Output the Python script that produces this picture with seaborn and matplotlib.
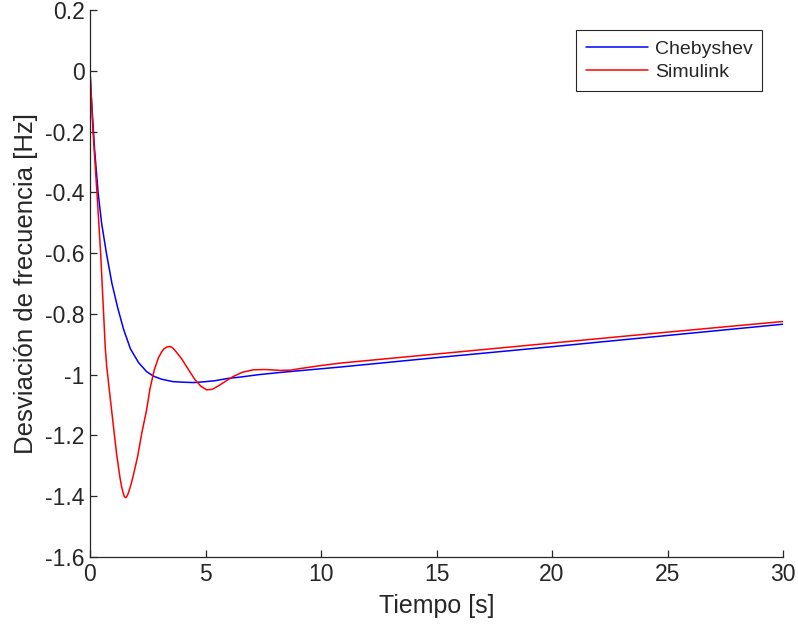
import numpy as np
import matplotlib
matplotlib.use("Agg")
import matplotlib.pyplot as plt
import pandas as pd
import seaborn as sns

# Chebyshev response (time [s], deviation [Hz])
t_cheb = [0, 0.05, 0.1, 0.2, 0.35, 0.5, 0.71, 0.95, 1.2, 1.45, 1.75, 2.1, 2.45, 2.75,
          3.1, 3.6, 4.1, 4.5, 5.0, 5.4, 6.0, 6.5, 7.3, 8.2, 9.5, 10.82,
          15, 20, 25, 30]
f_cheb = [0, -0.075, -0.14, -0.26, -0.40, -0.50, -0.60, -0.70, -0.78, -0.85, -0.915, -0.96,
          -0.99, -1.005, -1.015, -1.023, -1.025, -1.026, -1.023, -1.02, -1.012,
          -1.008, -1.0, -0.993, -0.984, -0.975, -0.944, -0.908, -0.871, -0.834]

# Simulink response
t_sim = [0, 0.13, 0.3, 0.46, 0.59, 0.66, 0.72, 0.85, 1.0, 1.15, 1.3, 1.36, 1.42, 1.48,
         1.54, 1.6, 1.66, 1.78, 1.88, 2.06, 2.24, 2.45, 2.6, 2.78, 2.96, 3.1,
         3.2, 3.33, 3.46, 3.58, 3.7, 3.97, 4.25, 4.55, 4.8, 5.05, 5.3, 5.6, 5.9,
         6.2, 6.6, 7.07, 7.6, 8.23, 8.7, 9.09, 10.0, 10.82, 15, 20, 25, 30]
f_sim = [0, -0.2, -0.4, -0.6, -0.8, -0.91, -0.97, -1.06, -1.16, -1.26, -1.34,
         -1.365, -1.385, -1.4, -1.405, -1.4, -1.39, -1.36, -1.33, -1.27, -1.193,
         -1.116, -1.045, -0.985, -0.945, -0.925, -0.915, -0.909, -0.907, -0.912,
         -0.922, -0.948, -0.982, -1.017, -1.038, -1.05, -1.048, -1.035, -1.02,
         -1.006, -0.992, -0.984, -0.983, -0.986, -0.985, -0.98, -0.97, -0.962,
         -0.932, -0.896, -0.86, -0.825]

x_ticks = [0, 5, 10, 15, 20, 25, 30]
y_ticks = [0.2, 0, -0.2, -0.4, -0.6, -0.8, -1, -1.2, -1.4, -1.6]
y_tick_labels = ["0.2", "0", "-0.2", "-0.4", "-0.6", "-0.8", "-1", "-1.2", "-1.4", "-1.6"]

df = pd.concat([
    pd.DataFrame({"t": t_cheb, "f": f_cheb, "serie": "Chebyshev"}),
    pd.DataFrame({"t": t_sim, "f": f_sim, "serie": "Simulink"}),
])

sns.set_theme(style="ticks")
plt.rcParams["font.family"] = ["Liberation Sans", "DejaVu Sans"]
plt.rcParams["axes.unicode_minus"] = False
txt = "#262626"

fig = plt.figure(figsize=(7.98, 6.32), dpi=100)
ax = fig.add_axes([90 / 798, 1 - 557 / 632, 693 / 798, 547 / 632])

sns.lineplot(data=df, x="t", y="f", hue="serie", estimator=None, sort=False,
             palette={"Chebyshev": "#0000ff", "Simulink": "#ff0000"},
             linewidth=1.1, ax=ax)

ax.set_xlim(0, 30)
ax.set_ylim(-1.6, 0.2)
ax.set_xticks(x_ticks)
ax.set_xticklabels([str(v) for v in x_ticks])
ax.set_yticks(y_ticks)
ax.set_yticklabels(y_tick_labels)
ax.tick_params(direction="in", length=5, width=0.9, colors=txt, labelsize=16.5, pad=4)
sns.despine(ax=ax)
for s in ("left", "bottom"):
    ax.spines[s].set_color(txt)
    ax.spines[s].set_linewidth(0.9)

ax.set_xlabel("Tiempo [s]", fontsize=18, color=txt, labelpad=6)
ax.set_ylabel("Desviación de frecuencia [Hz]", fontsize=18.5, color=txt, labelpad=5)

leg = ax.legend(loc="upper right", bbox_to_anchor=(0.970, 0.963), borderaxespad=0,
                fontsize=14, fancybox=False, framealpha=1, edgecolor=txt,
                handlelength=3.2, handletextpad=0.35, borderpad=0.5, labelspacing=0.3)
leg.get_frame().set_linewidth(0.8)
for t in leg.get_texts():
    t.set_color(txt)

fig.savefig("out.png", dpi=100)
